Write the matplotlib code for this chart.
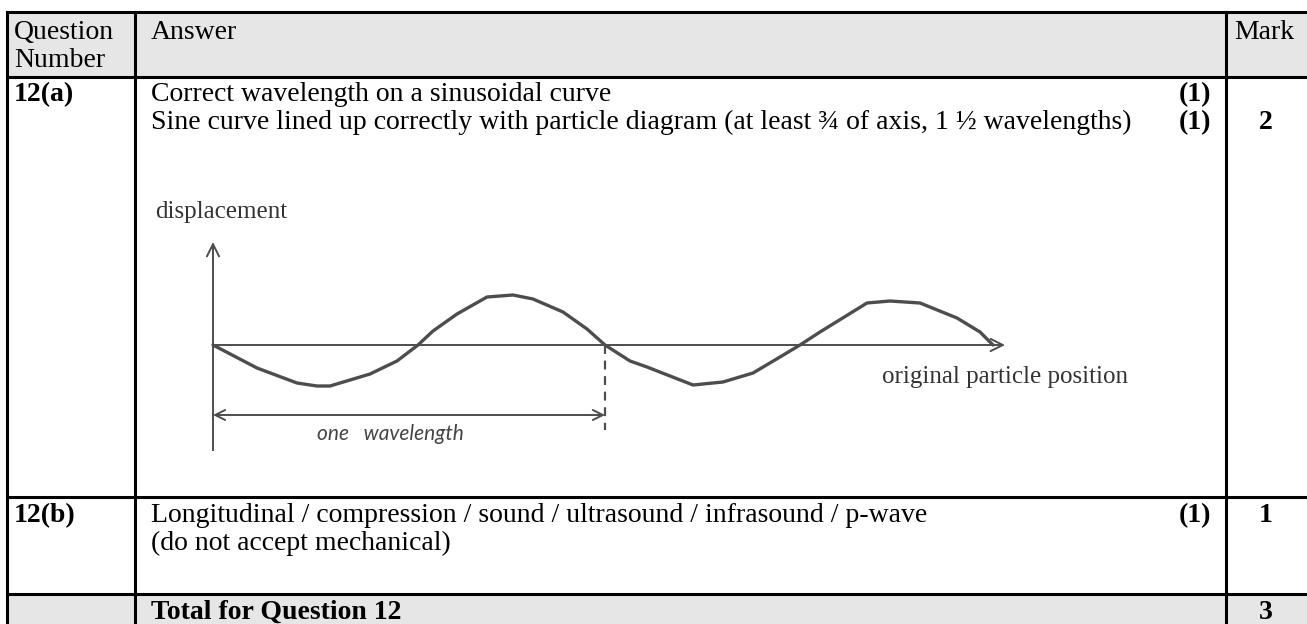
import matplotlib.pyplot as plt

plt.rcParams['font.family'] = ['Liberation Serif', 'DejaVu Serif']

# table text
header = ['Question\nNumber', 'Answer', 'Mark']
row_a_lines = ['Correct wavelength on a sinusoidal curve',
               'Sine curve lined up correctly with particle diagram (at least \u00be of axis, 1 \u00bd wavelengths)']
row_b_lines = ['Longitudinal / compression / sound / ultrasound / infrasound / p-wave',
               '(do not accept mechanical)']
row_a_marks = ['(1)', '(1)']
row_b_marks = ['(1)']
mark_a, mark_b, mark_total = '2', '1', '3'
total_label = 'Total for Question 12'

# hand drawn wave (x along axis, y = displacement, px)
wave_x = [0, 44, 84, 104, 117, 157, 184, 205, 220, 244, 274, 300, 320, 350, 374,
          392, 417, 434, 480, 510, 540, 567, 587, 607, 654, 677, 707, 744, 767, 780]
wave_y = [0, -23, -38, -41, -41, -29, -16, 0, 14, 31, 48, 50, 46, 33, 16,
          0, -16, -22, -40, -37, -28, -12, 0, 13, 42, 44, 42, 27, 13, 0]
wavelength = 392

# layout (pixels)
W, H = 1307, 624
col_x = [7, 135, 1226, 1320]
row_y = [12, 77, 497, 594, 640]
x0, y0 = 213, 345

fig = plt.figure(figsize=(W / 100, H / 100), dpi=100)
ax = fig.add_axes([0, 0, 1, 1])
ax.set_xlim(0, W)
ax.set_ylim(H, 0)
ax.axis('off')

grey = '#e6e6e6'
ax.fill_between([col_x[0], col_x[-1]], row_y[0], row_y[1], color=grey, lw=0)
ax.fill_between([col_x[0], col_x[-1]], row_y[3], row_y[4], color=grey, lw=0)
for y in row_y:
    ax.plot([col_x[0], col_x[-1]], [y, y], color='black', lw=2.2, solid_capstyle='projecting')
for x in col_x:
    ax.plot([x, x], [row_y[0], row_y[-1]], color='black', lw=2.2)

fs = 20
ax.text(14, 39, 'Question', fontsize=fs, va='baseline')
ax.text(14, 67, 'Number', fontsize=fs, va='baseline')
ax.text(151, 39, header[1], fontsize=fs, va='baseline')
ax.text(1234, 39, header[2], fontsize=fs, va='baseline')

# row a
ax.text(14, 101, '12(a)', fontsize=fs, fontweight='bold', va='baseline')
for i, (t, m) in enumerate(zip(row_a_lines, row_a_marks)):
    ax.text(151, 101 + 28 * i, t, fontsize=fs, va='baseline')
    ax.text(1211, 101 + 28 * i, m, fontsize=fs, fontweight='bold', va='baseline', ha='right')
ax.text(1266, 129, mark_a, fontsize=fs, fontweight='bold', va='baseline', ha='center')

# row b
ax.text(14, 522, '12(b)', fontsize=fs, fontweight='bold', va='baseline')
for i, t in enumerate(row_b_lines):
    ax.text(151, 522 + 28 * i, t, fontsize=fs, va='baseline')
ax.text(1211, 522, row_b_marks[0], fontsize=fs, fontweight='bold', va='baseline', ha='right')
ax.text(1266, 522, mark_b, fontsize=fs, fontweight='bold', va='baseline', ha='center')

# total row
ax.text(151, 619, total_label, fontsize=fs, fontweight='bold', va='baseline')
ax.text(1266, 619, mark_total, fontsize=fs, fontweight='bold', va='baseline', ha='center')

# sketch
ink = '#4d4d4d'
ax.plot([x0, x0], [y0, 450], color=ink, lw=1.4)
ax.annotate('', xy=(x0, 242), xytext=(x0, y0 + 2),
            arrowprops=dict(arrowstyle='->', color=ink, lw=1.4, mutation_scale=22,
                            shrinkA=0, shrinkB=0))
ax.annotate('', xy=(1005, y0), xytext=(x0, y0),
            arrowprops=dict(arrowstyle='->', color=ink, lw=1.4, mutation_scale=22,
                            shrinkA=0, shrinkB=0))
ax.plot([x0 + v for v in wave_x], [y0 - v for v in wave_y], color=ink, lw=2.4,
        solid_joinstyle='round', solid_capstyle='round')
ax.plot([x0 + wavelength, x0 + wavelength], [y0, 430], color=ink, lw=1.6,
        ls=(0, (4, 3)))
ax.annotate('', xy=(x0, 415), xytext=(x0 + wavelength, 415),
            arrowprops=dict(arrowstyle='<->', color=ink, lw=1.4, mutation_scale=18,
                            shrinkA=0, shrinkB=0))

ax.text(155, 218, 'displacement', fontsize=18, color='#333333', va='baseline')
ax.text(882, 383, 'original particle position', fontsize=18, color='#333333', va='baseline')
ax.text(317, 440, 'one   wavelength', fontsize=15, color='#444444', va='baseline',
        family=['Lato', 'DejaVu Sans'], style='italic')

fig.savefig('out.png', dpi=100)
